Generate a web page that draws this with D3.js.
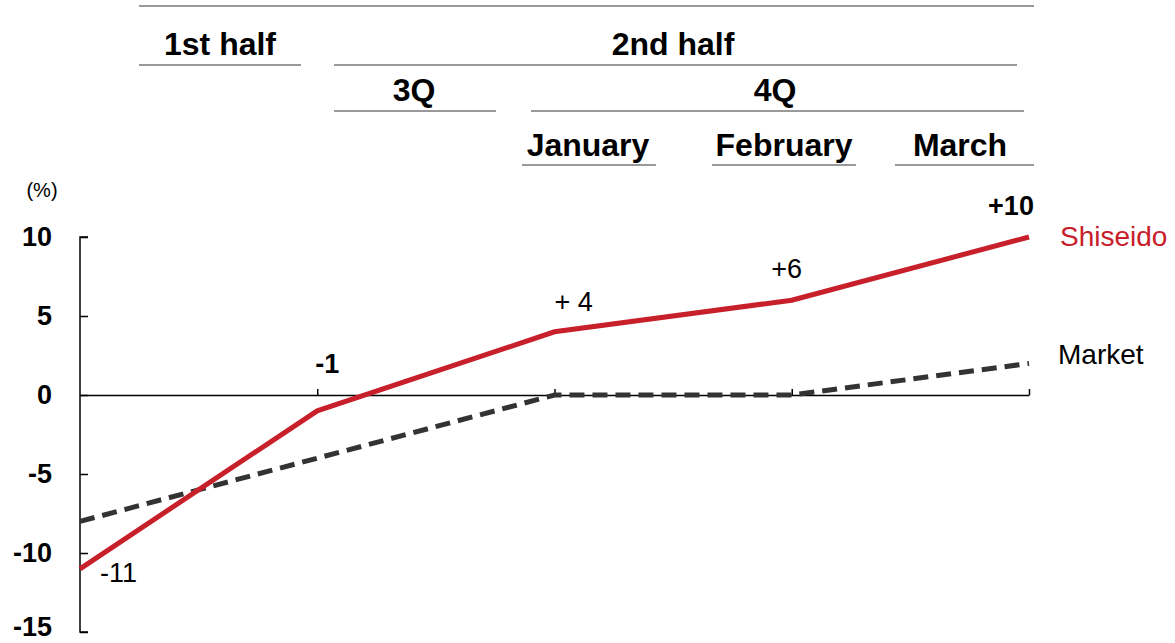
<!DOCTYPE html>
<html>
<head>
<meta charset="utf-8">
<script src="https://cdn.jsdelivr.net/npm/d3@7"></script>
<style>
  body { margin: 0; background: #fff; }
  svg { display: block; font-family: "Liberation Sans", Arial, sans-serif; }
</style>
</head>
<body>
<svg id="chart"></svg>
<script>
/*################
Data
################*/
const checkpoints = ['Start', 'End 1H', 'End 3Q', 'February', 'March'];
const shiseido = [-11, -1, 4, 6, 10];
const market = [-8, -4, 0, 0, 2];
const shiseidoLabels = ['-11', '-1', '+ 4', '+6', '+10'];
const yTicks = [10, 5, 0, -5, -10, -15];

// header rows (text only, placement below)
const headerRow1 = ['1st half', '2nd half'];
const headerRow2 = ['3Q', '4Q'];
const headerRow3 = ['January', 'February', 'March'];

/*################
Canvas
################*/
const width = 1175, height = 643;
const svg = d3.select('#chart').attr('width', width).attr('height', height);

const x = d3.scalePoint().domain(d3.range(checkpoints.length)).range([80, 1029]);
const y = d3.scaleLinear().domain([-15, 10]).range([632, 237]);

const red = '#c8202b', dark = '#333333', rule = '#999999';

/*################
Header bands
################*/
svg.append('line')
    .attr('x1', 139).attr('x2', 1034).attr('y1', 6).attr('y2', 6)
    .attr('stroke', rule).attr('stroke-width', 2);

const headerLayout = [
    { items: headerRow1, base: 55, lineY: 65, spans: [[139, 301], [334, 1017]], cx: [220, 673] },
    { items: headerRow2, base: 101, lineY: 111, spans: [[334, 496], [531, 1024]], cx: [414, 775] },
    { items: headerRow3, base: 156, lineY: 165, spans: [[522, 656], [712, 856], [895, 1034]], cx: [588, 784, 960] }
];

headerLayout.forEach(row => {
    const g = svg.append('g');
    g.selectAll('text')
        .data(row.items)
        .enter()
        .append('text')
        .attr('x', (d, i) => row.cx[i])
        .attr('y', row.base)
        .attr('text-anchor', 'middle')
        .attr('font-size', 32)
        .attr('font-weight', 'bold')
        .attr('fill', '#000')
        .text(d => d);
    g.selectAll('line')
        .data(row.spans)
        .enter()
        .append('line')
        .attr('x1', d => d[0]).attr('x2', d => d[1])
        .attr('y1', row.lineY).attr('y2', row.lineY)
        .attr('stroke', rule).attr('stroke-width', 2);
});

/*################
Axes
################*/
svg.append('text')
    .attr('x', 42).attr('y', 197)
    .attr('text-anchor', 'middle')
    .attr('font-size', 20)
    .text('(%)');

const yAxis = svg.append('g').attr('transform', 'translate(80,0)')
    .call(d3.axisRight(y).tickValues(yTicks).tickSize(8).tickFormat(''));
yAxis.select('.domain').attr('stroke', '#000').attr('stroke-width', 1.5)
    .attr('d', `M8,${y(10)}H0V${y(-15)}H8`);
yAxis.selectAll('.tick line').attr('stroke', '#000').attr('stroke-width', 1.5);

svg.append('g')
    .selectAll('text')
    .data(yTicks)
    .enter()
    .append('text')
    .attr('x', 52)
    .attr('y', d => Math.min(y(d) + 9, 636))
    .attr('text-anchor', 'end')
    .attr('font-size', 27)
    .attr('font-weight', 'bold')
    .text(d => d);

// zero line with upward ticks
const xAxis = svg.append('g').attr('transform', `translate(0,${y(0)})`)
    .call(d3.axisTop(x).tickSize(6).tickSizeOuter(0).tickFormat(''));
xAxis.select('.domain').attr('stroke', '#000').attr('stroke-width', 1.5);
xAxis.selectAll('.tick line').attr('stroke', '#000').attr('stroke-width', 1.5)
    .filter((d, i) => i === 0).remove();

/*################
Lines
################*/
const line = d3.line().x((d, i) => x(i)).y(d => y(d));

svg.append('path')
    .datum(market)
    .attr('d', line)
    .attr('fill', 'none')
    .attr('stroke', dark)
    .attr('stroke-width', 5)
    .attr('stroke-dasharray', '15,8');

svg.append('path')
    .datum(shiseido)
    .attr('d', line)
    .attr('fill', 'none')
    .attr('stroke', red)
    .attr('stroke-width', 5);

/*################
Labels
################*/
const labelOffsets = [
    { dx: 20, dy: 13, anchor: 'start', weight: 'normal' },
    { dx: 10, dy: -38, anchor: 'middle', weight: 'bold' },
    { dx: 0, dy: -21, anchor: 'start', weight: 'normal' },
    { dx: -5, dy: -22, anchor: 'middle', weight: 'normal' },
    { dx: -18, dy: -22, anchor: 'middle', weight: 'bold' }
];

svg.append('g')
    .selectAll('text')
    .data(shiseidoLabels)
    .enter()
    .append('text')
    .attr('x', (d, i) => x(i) + labelOffsets[i].dx)
    .attr('y', (d, i) => y(shiseido[i]) + labelOffsets[i].dy)
    .attr('text-anchor', (d, i) => labelOffsets[i].anchor)
    .attr('font-weight', (d, i) => labelOffsets[i].weight)
    .attr('font-size', 27)
    .text(d => d);

const last = checkpoints.length - 1;
svg.append('text')
    .attr('x', 1060).attr('y', y(shiseido[last]) + 9)
    .attr('font-size', 28)
    .attr('fill', red)
    .text('Shiseido');

svg.append('text')
    .attr('x', 1058).attr('y', y(market[last]) + 1)
    .attr('font-size', 28)
    .attr('fill', '#000')
    .text('Market');
</script>
</body>
</html>
